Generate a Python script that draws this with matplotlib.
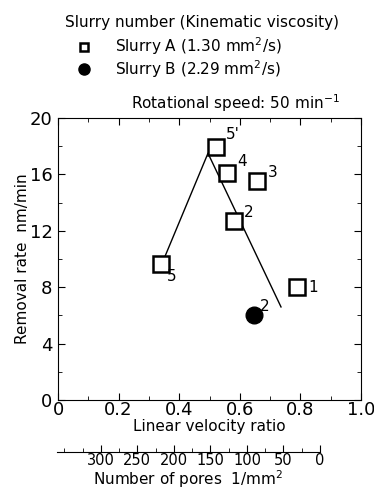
import matplotlib.pyplot as plt
from matplotlib.ticker import MultipleLocator

plt.rcParams['font.family'] = ['DejaVu Sans']

# Slurry A (open squares)
a_labels = ['1', '2', '3', '4', '5', "5'"]
a_ratio = [0.79, 0.58, 0.657, 0.558, 0.34, 0.52]
a_rate = [8.0, 12.7, 15.5, 16.1, 9.65, 17.95]

# Slurry B (filled circle)
b_labels = ['2']
b_ratio = [0.647]
b_rate = [6.0]

# trend lines
line_x = [0.334, 0.495, 0.736]
line_y = [9.2, 17.5, 6.6]

# secondary scale ticks
pore_ticks = [300, 250, 200, 150, 100, 50, 0]

# label offsets (data units)
lab_dx = [0.035, 0.035, 0.035, 0.035, 0.02, 0.035]
lab_dy = [0.0, 0.6, 0.6, 0.8, -0.9, 0.9]

fig = plt.figure(figsize=(3.74, 4.91), dpi=100)
ax = fig.add_axes([58 / 374, 1 - 400 / 491, (361 - 58) / 374, (400 - 118) / 491])

ax.plot(line_x, line_y, color='black', linewidth=1.0)
ax.plot(a_ratio, a_rate, linestyle='none', marker='s', markersize=12,
        markerfacecolor='white', markeredgecolor='black', markeredgewidth=1.8)
ax.plot(b_ratio, b_rate, linestyle='none', marker='o', markersize=12,
        color='black')

for x, y, t, dx, dy in zip(a_ratio, a_rate, a_labels, lab_dx, lab_dy):
    ax.text(x + dx, y + dy, t, fontsize=11, va='center', ha='left')
for x, y, t in zip(b_ratio, b_rate, b_labels):
    ax.text(x + 0.02, y + 0.65, t, fontsize=11, va='center', ha='left')

ax.set_xlim(0, 1.0)
ax.set_ylim(0, 20)
ax.xaxis.set_minor_locator(MultipleLocator(0.1))
ax.yaxis.set_major_locator(MultipleLocator(4))
ax.yaxis.set_minor_locator(MultipleLocator(2))
ax.set_xticks([0, 0.2, 0.4, 0.6, 0.8, 1.0])
ax.set_xticklabels(['0', '0.2', '0.4', '0.6', '0.8', '1.0'])
ax.tick_params(which='both', direction='in', top=True, right=True, labelsize=13)
ax.tick_params(axis='x', pad=1)
ax.tick_params(axis='y', pad=4)
ax.tick_params(which='major', length=5)
ax.tick_params(which='minor', length=3)
ax.set_xlabel('Linear velocity ratio', fontsize=11, labelpad=0)
ax.set_ylabel('Removal rate  nm/min', fontsize=11, labelpad=0)

# secondary scale: number of pores
ax2 = fig.add_axes([57 / 374, 1 - 452 / 491, (320 - 57) / 374, 0.001])
ax2.set_xlim(360, 0)
ax2.set_yticks([])
for s in ['top', 'left', 'right']:
    ax2.spines[s].set_visible(False)
ax2.patch.set_visible(False)
ax2.xaxis.set_minor_locator(MultipleLocator(25))
ax2.set_xticks(pore_ticks)
ax2.tick_params(which='both', direction='in', pad=1, labelsize=10.5)
ax2.tick_params(which='major', length=5)
ax2.tick_params(which='minor', length=3)
ax2.set_xlabel(r'Number of pores  1/mm$^2$', fontsize=11, labelpad=0)

# legend block
fig.text(65 / 374, 1 - 22 / 491, 'Slurry number (Kinematic viscosity)',
         fontsize=11, va='center', ha='left')
fig.text(115 / 374, 1 - 46 / 491, r'Slurry A (1.30 mm$^2$/s)',
         fontsize=11, va='center', ha='left')
fig.text(115 / 374, 1 - 69 / 491, r'Slurry B (2.29 mm$^2$/s)',
         fontsize=11, va='center', ha='left')
fig.text(131 / 374, 1 - 103 / 491, r'Rotational speed: 50 min$^{-1}$',
         fontsize=11, va='center', ha='left')
fig.lines.append(plt.Line2D([84 / 374], [1 - 47 / 491], transform=fig.transFigure,
                            marker='s', markersize=6, markerfacecolor='white',
                            markeredgecolor='black', markeredgewidth=1.8,
                            linestyle='none'))
fig.lines.append(plt.Line2D([84 / 374], [1 - 69 / 491], transform=fig.transFigure,
                            marker='o', markersize=8, color='black',
                            linestyle='none'))

fig.savefig('out.png', dpi=100)
